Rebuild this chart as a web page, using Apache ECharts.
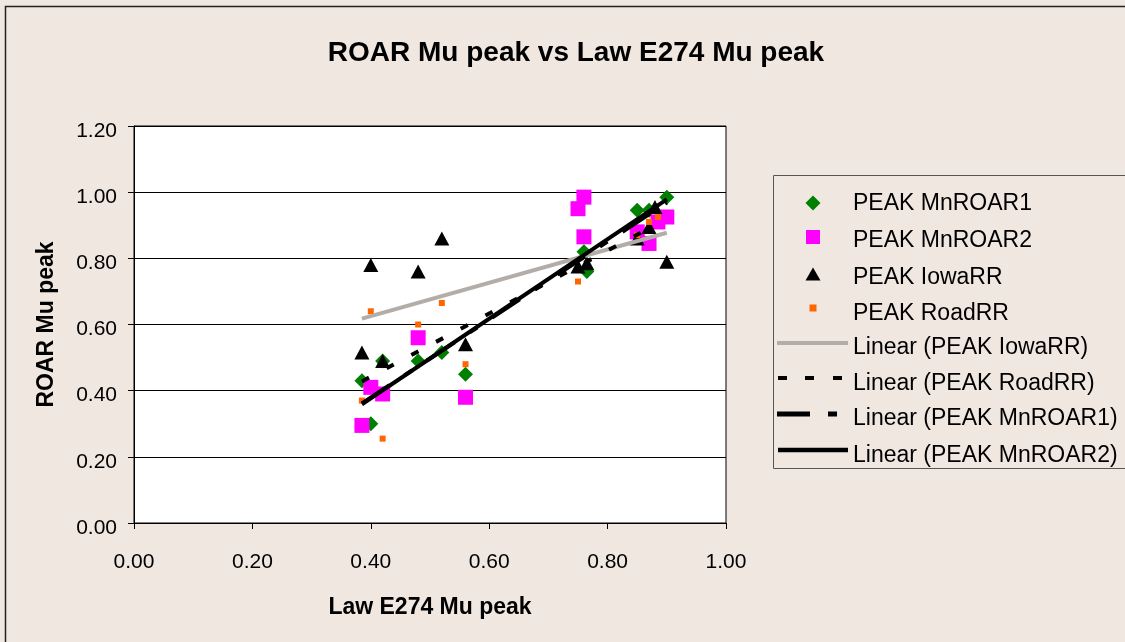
<!DOCTYPE html>
<html><head><meta charset="utf-8">
<script src="https://cdn.jsdelivr.net/npm/echarts@6/dist/echarts.min.js"></script>
<style>html,body{margin:0;padding:0;background:#F0E7E1;}#c{width:1125px;height:642px;}</style>
</head><body><div id="c"></div>
<script>
var titleText = 'ROAR Mu peak vs Law E274 Mu peak';
var xName = 'Law E274 Mu peak';
var yName = 'ROAR Mu peak';
var seriesNames = ['PEAK MnROAR1', 'PEAK MnROAR2', 'PEAK IowaRR', 'PEAK RoadRR'];
var trendNames = ['Linear (PEAK IowaRR)', 'Linear (PEAK RoadRR)', 'Linear (PEAK MnROAR1)', 'Linear (PEAK MnROAR2)'];

var mnroar1 = [[0.385,0.43],[0.40,0.30],[0.42,0.49],[0.48,0.49],[0.52,0.515],[0.56,0.45],[0.76,0.82],[0.765,0.76],[0.85,0.945],[0.87,0.945],[0.90,0.985]];
var mnroar2 = [[0.385,0.295],[0.40,0.41],[0.42,0.39],[0.48,0.56],[0.56,0.38],[0.75,0.95],[0.76,0.985],[0.76,0.865],[0.85,0.88],[0.87,0.845],[0.885,0.91],[0.90,0.925]];
var iowarr = [[0.385,0.515],[0.40,0.78],[0.42,0.49],[0.48,0.76],[0.52,0.86],[0.56,0.54],[0.75,0.775],[0.765,0.785],[0.85,0.86],[0.87,0.895],[0.88,0.955],[0.90,0.79]];
var roadrr = [[0.385,0.37],[0.40,0.64],[0.42,0.255],[0.48,0.60],[0.52,0.665],[0.56,0.48],[0.75,0.73],[0.85,0.87],[0.87,0.91],[0.885,0.925]];

function linFit(pts){
  var n=pts.length,sx=0,sy=0,sxx=0,sxy=0,mn=Infinity,mx=-Infinity;
  pts.forEach(function(p){sx+=p[0];sy+=p[1];sxx+=p[0]*p[0];sxy+=p[0]*p[1];mn=Math.min(mn,p[0]);mx=Math.max(mx,p[0]);});
  var b=(n*sxy-sx*sy)/(n*sxx-sx*sx), a=(sy-b*sx)/n;
  return [[mn,a+b*mn],[mx,a+b*mx]];
}

var font = 'Liberation Sans, Arial, sans-serif';
var allNames = seriesNames.concat(trendNames);
var colors = ['#008000', '#FF00FF', '#000000', '#FF6600', '#B3ADA8', '#000000', '#000000', '#000000'];
// legend icons drawn in a 71x24 box (bounds fixed by the two moveTo points)
var box = 'M0,0M71,24';
var icons = [
  'M36,3.5L43.5,11L36,18.5L28.5,11Z',
  'M29,1L43,1L43,15L29,15Z',
  'M36,1.5L43.5,14.5L28.5,14.5Z',
  'M32.5,2.5L39.5,2.5L39.5,9.5L32.5,9.5Z',
  'M0,5L71,5L71,9L0,9Z',
  'M1,4L10,4L10,8L1,8ZM28,4L37,4L37,8L28,8ZM56,4L65,4L65,8L56,8Z',
  'M0,4.5L33,4.5L33,9.5L0,9.5ZM51,4.5L60,4.5L60,9.5L51,9.5Z',
  'M1,3.8L71,3.8L71,8.2L1,8.2Z'
];
var rowTextCentres = [204, 241, 278, 314, 348, 384, 419, 456];
var legends = allNames.map(function(nm, i){
  return {orient: 'vertical', left: 777, top: rowTextCentres[i] - 12, padding: 0,
    itemWidth: 71, itemHeight: 24, symbolKeepAspect: true, selectedMode: false, itemGap: 0,
    textStyle: {fontFamily: font, fontSize: 23, color: '#000', lineHeight: 23},
    data: [{name: nm, icon: 'path://' + box + icons[i], itemStyle: {color: colors[i], opacity: 1, borderWidth: 0}}]};
});

var chart = echarts.init(document.getElementById('c'));
chart.setOption({
  backgroundColor: '#F0E7E1',
  animation: false,
  title: {text: titleText, left: 571, top: 34, textAlign: 'center',
    textStyle: {fontFamily: font, fontSize: 28, fontWeight: 'bold', color: '#000'}},
  grid: {left: 134, right: 399, top: 126, bottom: 119, show: true, backgroundColor: '#fff', borderColor: '#000', borderWidth: 1},
  xAxis: {type: 'value', min: 0, max: 1, interval: 0.2, name: xName, nameLocation: 'middle', nameGap: 73,
    nameTextStyle: {fontFamily: font, fontSize: 23, fontWeight: 'bold', color: '#000'},
    axisLine: {show: true, lineStyle: {color: '#000'}}, axisTick: {show: true, length: 6, lineStyle: {color: '#000'}},
    splitLine: {show: false},
    axisLabel: {fontFamily: font, fontSize: 21, color: '#000', margin: 29, formatter: function(v){return v.toFixed(2);}}},
  yAxis: {type: 'value', min: 0, max: 1.2, interval: 0.2, name: yName, nameLocation: 'middle', nameGap: 76, nameRotate: 90,
    nameTextStyle: {fontFamily: font, fontSize: 23, fontWeight: 'bold', color: '#000'},
    axisLine: {show: true, lineStyle: {color: '#000'}}, axisTick: {show: true, length: 6, lineStyle: {color: '#000'}},
    splitLine: {show: true, lineStyle: {color: '#000', width: 1}},
    axisLabel: {fontFamily: font, fontSize: 21, color: '#000', margin: 17, verticalAlign: 'top', lineHeight: 10, formatter: function(v){return v.toFixed(2);}}},
  legend: legends,
  graphic: [
    {type: 'rect', shape: {x: 5.5, y: 6.5, width: 1300, height: 800}, style: {fill: 'none', stroke: '#222', lineWidth: 1.5}, silent: true, z: -1},
    {type: 'rect', shape: {x: 773.5, y: 175.5, width: 500, height: 293}, style: {fill: 'none', stroke: '#555', lineWidth: 1}, silent: true}
  ],
  series: [
    {name: seriesNames[0], type: 'scatter', data: mnroar1, symbol: 'diamond', symbolSize: 15, itemStyle: {color: colors[0], opacity: 1}},
    {name: seriesNames[1], type: 'scatter', data: mnroar2, symbol: 'rect', symbolSize: 15, itemStyle: {color: colors[1], opacity: 1}},
    {name: seriesNames[2], type: 'scatter', data: iowarr, symbol: 'triangle', symbolSize: [15, 14], itemStyle: {color: colors[2], opacity: 1}},
    {name: seriesNames[3], type: 'scatter', data: roadrr, symbol: 'rect', symbolSize: 6, itemStyle: {color: colors[3], opacity: 1}},
    {name: trendNames[0], type: 'line', data: linFit(iowarr), symbol: 'none', lineStyle: {color: colors[4], width: 4}, itemStyle: {color: colors[4]}, z: 5},
    {name: trendNames[1], type: 'line', data: linFit(roadrr), symbol: 'none', lineStyle: {color: colors[5], width: 4, type: [8, 20]}, itemStyle: {color: colors[5]}, z: 5},
    {name: trendNames[2], type: 'line', data: linFit(mnroar1), symbol: 'none', lineStyle: {color: colors[6], width: 4, type: [33, 18, 9, 18]}, itemStyle: {color: colors[6]}, z: 5},
    {name: trendNames[3], type: 'line', data: linFit(mnroar2), symbol: 'none', lineStyle: {color: colors[7], width: 4}, itemStyle: {color: colors[7]}, z: 5}
  ]
});
</script></body></html>
